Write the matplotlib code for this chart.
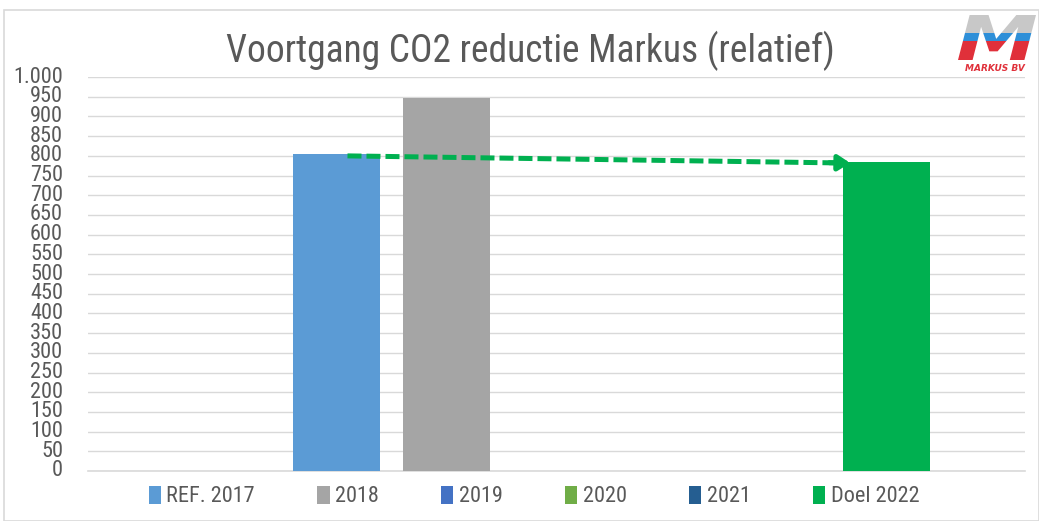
import matplotlib
matplotlib.use("Agg")
import matplotlib.pyplot as plt
from matplotlib.patches import Rectangle, Patch, PathPatch
from matplotlib.ticker import FuncFormatter, MultipleLocator
from matplotlib.font_manager import FontProperties, fontManager
from matplotlib.textpath import TextPath
from matplotlib.transforms import Affine2D
import numpy as np

# ---- data ----
series_names = ["REF. 2017", "2018", "2019", "2020", "2021", "Doel 2022"]
series_values = [805, 948, 0, 0, 0, 785]
series_colors = ["#5B9BD5", "#A5A5A5", "#4472C4", "#70AD47", "#255E91", "#00B050"]
trend_values = [800, 782]          # dashed arrow start / end (relative CO2)
title = "Voortgang CO2 reductie Markus (relatief)"

# ---- pick a narrow font if one is installed ----
def pick_narrow():
    prefs = ["Liberation Sans Narrow", "Roboto Condensed", "Open Sans Condensed"]
    for p in prefs:
        for f in fontManager.ttflist:
            if f.name == p and f.weight in (400, "normal", "regular") and f.style == "normal":
                return f.fname, 1.0
    for f in fontManager.ttflist:
        if f.name == "DejaVu Sans" and "Condensed" in f.fname and "Bold" not in f.fname \
                and "Oblique" not in f.fname:
            return f.fname, 0.97
    return None, 0.88

narrow_path, scale = pick_narrow()

def fp(size):
    if narrow_path:
        return FontProperties(fname=narrow_path, size=size * scale)
    return FontProperties(family="DejaVu Sans", size=size * scale)

text_color = "#595959"

fig = plt.figure(figsize=(10.39, 5.21), dpi=100)
fig.patches.append(Rectangle((0.004, 0.0), 0.996, 0.981, transform=fig.transFigure,
                             fill=False, edgecolor="#D9D9D9", linewidth=1.2))

ax = fig.add_axes([0.0847, 0.096, 0.9018, 0.756])

# one empty leading slot in the cluster (as in the source chart)
positions = np.arange(len(series_names)) + 1
bar_w = 0.79
for pos, val, col in zip(positions, series_values, series_colors):
    ax.bar(pos, val, width=bar_w, color=col, zorder=3)

ax.set_xlim(-1.259, 7.259)
ax.set_ylim(0, 1000)
ax.yaxis.set_major_locator(MultipleLocator(50))
ax.yaxis.set_major_formatter(FuncFormatter(lambda v, p: f"{int(v):,}".replace(",", ".")))
ax.grid(axis='y', color="#D9D9D9", linewidth=1.0, zorder=0)
ax.set_xticks([])
for s in ["top", "right", "left"]:
    ax.spines[s].set_visible(False)
ax.spines["bottom"].set_color("#D9D9D9")
ax.spines["bottom"].set_linewidth(1.2)
ax.tick_params(axis='y', length=0, labelcolor=text_color, pad=18)
for lbl in ax.get_yticklabels():
    lbl.set_fontproperties(fp(16))
    lbl.set_verticalalignment('center')

# dashed trend arrow from REF bar to Doel bar
x0 = positions[0] + 0.10
x1 = positions[-1] - 0.40
y0, y1 = trend_values
ax.plot([x0, x1 - 0.05], [y0, y1 + (y0 - y1) * 0.01], color="#00B050", linewidth=3.6,
        dashes=(2.8, 1.0), zorder=4, solid_capstyle='butt', dash_capstyle='butt')
ax.annotate("", xy=(x1 + 0.07, y1), xytext=(x1 - 0.12, y1 + (y0 - y1) * 0.04),
            arrowprops=dict(arrowstyle="-|>,head_length=0.7,head_width=0.45",
                            color="#00B050", lw=3.6, shrinkA=0, shrinkB=0), zorder=5)

# title
fig.text(0.51, 0.902, title, ha='center', va='center', color=text_color,
         fontproperties=fp(27))

# legend
handles = [Patch(facecolor=c, edgecolor='none') for c in series_colors]
leg = fig.legend(handles, series_names, loc='center', bbox_to_anchor=(0.514, 0.047),
                 ncol=6, frameon=False, prop=fp(16), handlelength=0.55, handleheight=0.9,
                 handletextpad=0.25, columnspacing=2.8, labelcolor=text_color)

# logo (approximation): striped italic "M"
logo_fp = FontProperties(family="DejaVu Sans", weight="bold", style="italic")
tp = TextPath((0, 0), "M", size=1, prop=logo_fp)
ext = tp.get_extents()
x_left, x_right, y_bot, y_top = 958, 1036, 521 - 60, 521 - 15
sx = (x_right - x_left) / ext.width
sy = (y_top - y_bot) / ext.height
tr = Affine2D().translate(-ext.x0, -ext.y0).scale(sx, sy).translate(x_left, y_bot)
mpath = tr.transform_path(tp)
clip = PathPatch(mpath, transform=None, facecolor='none', edgecolor='none')
fig.patches.append(clip)
bands = [(y_top - 18, y_top, "#C8C8C8"), (y_top - 26, y_top - 18, "#2E8FD8"),
         (y_bot, y_top - 26, "#E0303A")]
for b0, b1, c in bands:
    r = Rectangle((x_left - 5, b0), x_right - x_left + 10, b1 - b0, transform=None,
                  facecolor=c, edgecolor='none')
    fig.patches.append(r)
    r.set_clip_path(clip)
fig.text(0.958, 0.869, "MARKUS BV", ha='center', va='center', fontsize=6.5, color="#E0303A",
         fontweight='bold', style='italic', family=['DejaVu Sans'])

fig.savefig("out.png", dpi=100)
